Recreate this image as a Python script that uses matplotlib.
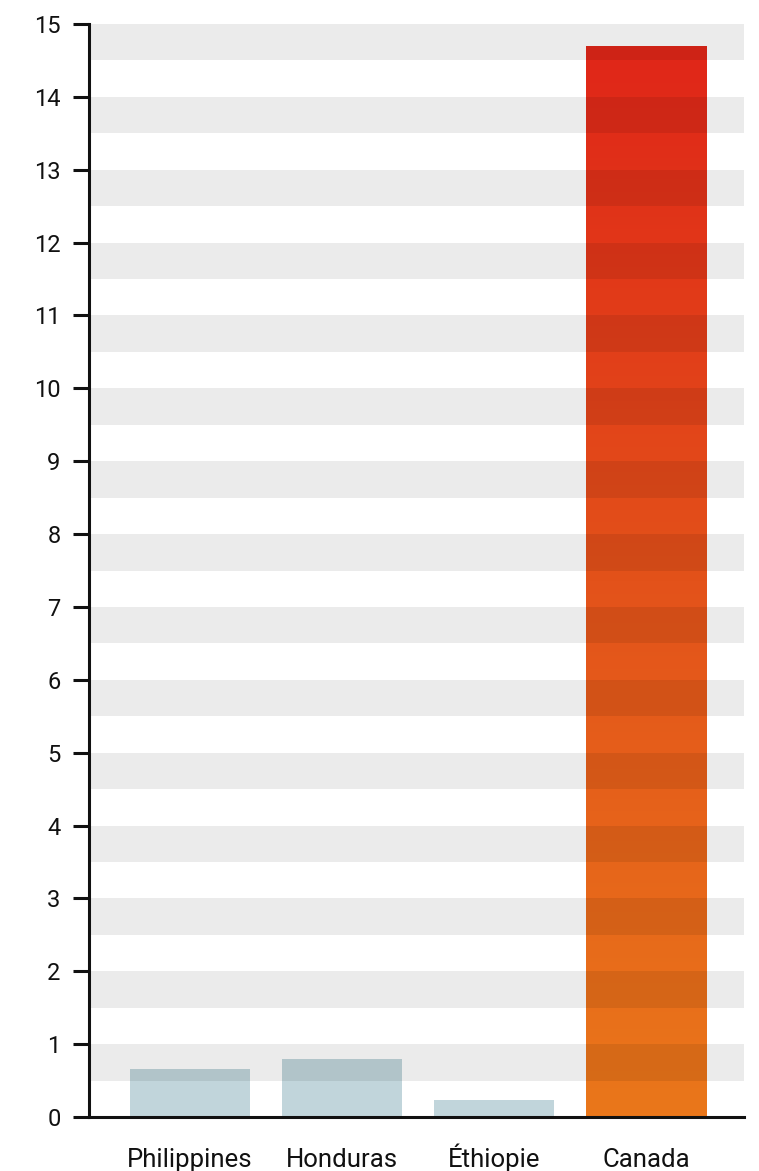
import matplotlib
matplotlib.use('Agg')
import matplotlib.pyplot as plt
import numpy as np
from matplotlib.colors import LinearSegmentedColormap

# values per country
countries = ['Philippines', 'Honduras', 'Éthiopie', 'Canada']
values = [0.66, 0.80, 0.23, 14.70]
y_ticks = list(range(0, 16))

plt.rcParams['font.family'] = ['Roboto', 'DejaVu Sans']

fig = plt.figure(figsize=(7.59, 11.71), dpi=100)
ax = fig.add_axes([89 / 759, 54 / 1171, 655 / 759, 1093 / 1171])

x = np.arange(len(countries))
width = 0.79
grey_bar = '#c1d5db'

for xi, v, name in zip(x, values, countries):
    if name == 'Canada':
        # vertical orange -> red gradient clipped to the bar
        bar = ax.bar(xi, v, width=width, color='none', zorder=2)[0]
        cmap = LinearSegmentedColormap.from_list('heat', ['#ea771a', '#e3521a', '#e02618'])
        grad = np.linspace(0, 1, 256).reshape(-1, 1)
        im = ax.imshow(grad, cmap=cmap, origin='lower', aspect='auto',
                       extent=[xi - width / 2, xi + width / 2, 0, v], zorder=2)
        im.set_clip_path(bar)
    else:
        ax.bar(xi, v, width=width, color=grey_bar, zorder=2)

# translucent stripes over the upper half of each unit
for k in range(15):
    ax.axhspan(k + 0.5, k + 1, color='black', alpha=0.078, lw=0, zorder=3)

ax.set_xlim(-0.664, 3.645)
ax.set_ylim(0, 15)

ax.set_yticks(y_ticks)
ax.set_yticklabels([str(t) for t in y_ticks])
ax.set_xticks(x)
ax.set_xticklabels(countries)

for side in ['top', 'right']:
    ax.spines[side].set_visible(False)
for side in ['left', 'bottom']:
    ax.spines[side].set_linewidth(2.2)
    ax.spines[side].set_color('#111111')
    ax.spines[side].set_zorder(5)

ax.tick_params(axis='y', length=11.5, width=2.2, color='#111111', pad=9,
               labelsize=17, labelcolor='#111111')
ax.tick_params(axis='x', length=0, pad=36, labelsize=18.5, labelcolor='#111111')
# keep the country names on one baseline, accent or not
for lbl in ax.get_xticklabels():
    lbl.set_verticalalignment('baseline')

fig.savefig('out.png', dpi=100)
